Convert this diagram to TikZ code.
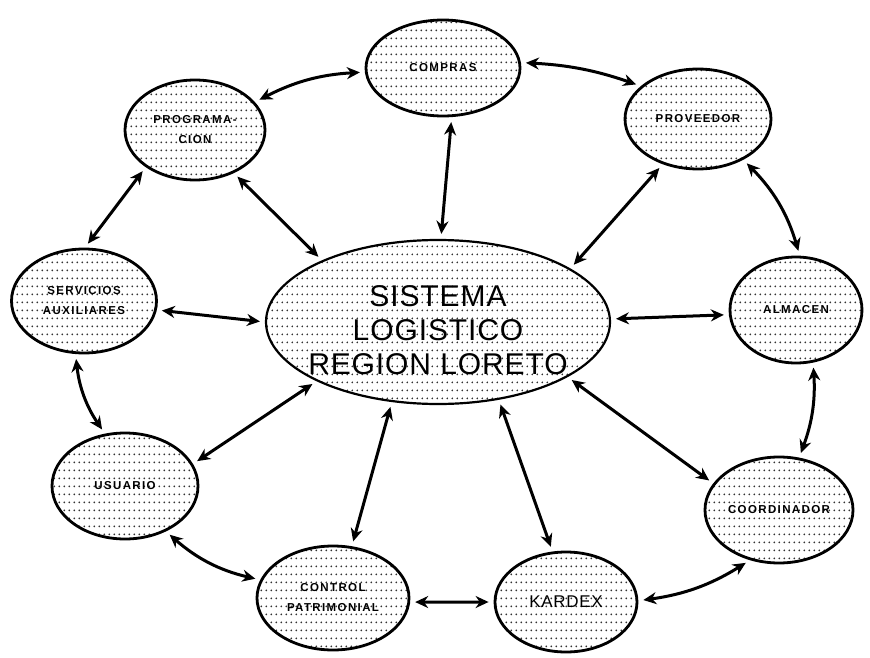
\documentclass[tikz,border=0pt]{standalone}
\usepackage{fontspec}
\setmainfont{Liberation Sans}
\usetikzlibrary{shapes.geometric,arrows.meta,patterns}

% dot screen used to fill every ellipse
\pgfdeclarepatternformonly{dotgrid}{\pgfpointorigin}{\pgfpoint{5.2pt}{8pt}}{\pgfpoint{5.2pt}{8pt}}%
  {\pgfpathcircle{\pgfpoint{2.6pt}{4pt}}{1.05pt}\pgfusepath{fill}}

\tikzset{
  unit/.style={ellipse, draw=black, line width=2.8pt, pattern=dotgrid,
    pattern color=black!80, inner sep=0pt, align=center,
    font=\fontsize{11.5}{20}\selectfont\bfseries\addfontfeatures{LetterSpace=12}},
  hub/.style={ellipse, draw=black, line width=2.2pt, pattern=dotgrid,
    pattern color=black!80, inner sep=0pt},
  hubtext/.style={align=center, inner sep=0pt,
    font=\fontsize{30}{34}\selectfont\addfontfeatures{LetterSpace=3}},
  biarrow/.style={line width=3pt,
    {Stealth[length=13pt,width=12pt]}-{Stealth[length=13pt,width=12pt]},
    shorten <=5pt, shorten >=5pt}
}

\begin{document}
\begin{tikzpicture}[x=1pt,y=-1pt]
\useasboundingbox (0,0) rectangle (870,658);

% central system
\node[hub, minimum width=344pt, minimum height=164pt,
  label={[hubtext, yshift=-8pt]center:SISTEMA\\LOGISTICO\\REGION LORETO}] (sis) at (438,322) {};

% surrounding units
\node[unit, minimum width=154pt, minimum height=96pt] (com) at (443,68) {COMPRAS};
\node[unit, minimum width=140pt, minimum height=100pt] (pro) at (195,130) {PROGRAMA-\\CION};
\node[unit, minimum width=146pt, minimum height=100pt] (prv) at (698,119) {PROVEEDOR};
\node[unit, minimum width=145pt, minimum height=104pt] (ser) at (84,301) {SERVICIOS\\AUXILIARES};
\node[unit, minimum width=132pt, minimum height=106pt] (alm) at (796,310) {ALMACEN};
\node[unit, minimum width=146pt, minimum height=106pt] (usu) at (125,486) {USUARIO};
\node[unit, minimum width=148pt, minimum height=106pt] (coo) at (779,510) {COORDINADOR};
\node[unit, minimum width=152pt, minimum height=104pt] (con) at (333,598) {CONTROL\\PATRIMONIAL};
\node[unit, minimum width=142pt, minimum height=100pt,
  font=\fontsize{17}{20}\selectfont\addfontfeatures{LetterSpace=4}] (kar) at (566,602) {KARDEX};

% links between units
\draw[biarrow] (pro.25) to[bend left=12] (com.183);
\draw[biarrow] (com.4) to[bend left=8] (prv.150);
\draw[biarrow] (com.280) -- (sis.88);
\draw[biarrow] (pro.312) -- (sis.152);
\draw[biarrow] (prv.232) -- (sis.22);
\draw[biarrow] (prv.318) to[bend left=14] (alm.86);
\draw[biarrow] (pro.217) -- (ser.89);
\draw[biarrow] (ser.353) -- (sis.180);
\draw[biarrow] (sis.1) -- (alm.184);
\draw[biarrow] (ser.261) to[bend right=14] (usu.111);
\draw[biarrow] (sis.206) -- (usu.18);
\draw[biarrow] (alm.288) to[bend left=12] (coo.69);
\draw[biarrow] (sis.337) -- (coo.158);
\draw[biarrow] (sis.240) -- (con.70);
\draw[biarrow] (sis.308) -- (kar.105);
\draw[biarrow] (usu.312) to[bend right=14] (con.166);
\draw[biarrow] (con.357) -- (kar.180);
\draw[biarrow] (kar.1) to[bend right=12] (coo.240);
\end{tikzpicture}
\end{document}
